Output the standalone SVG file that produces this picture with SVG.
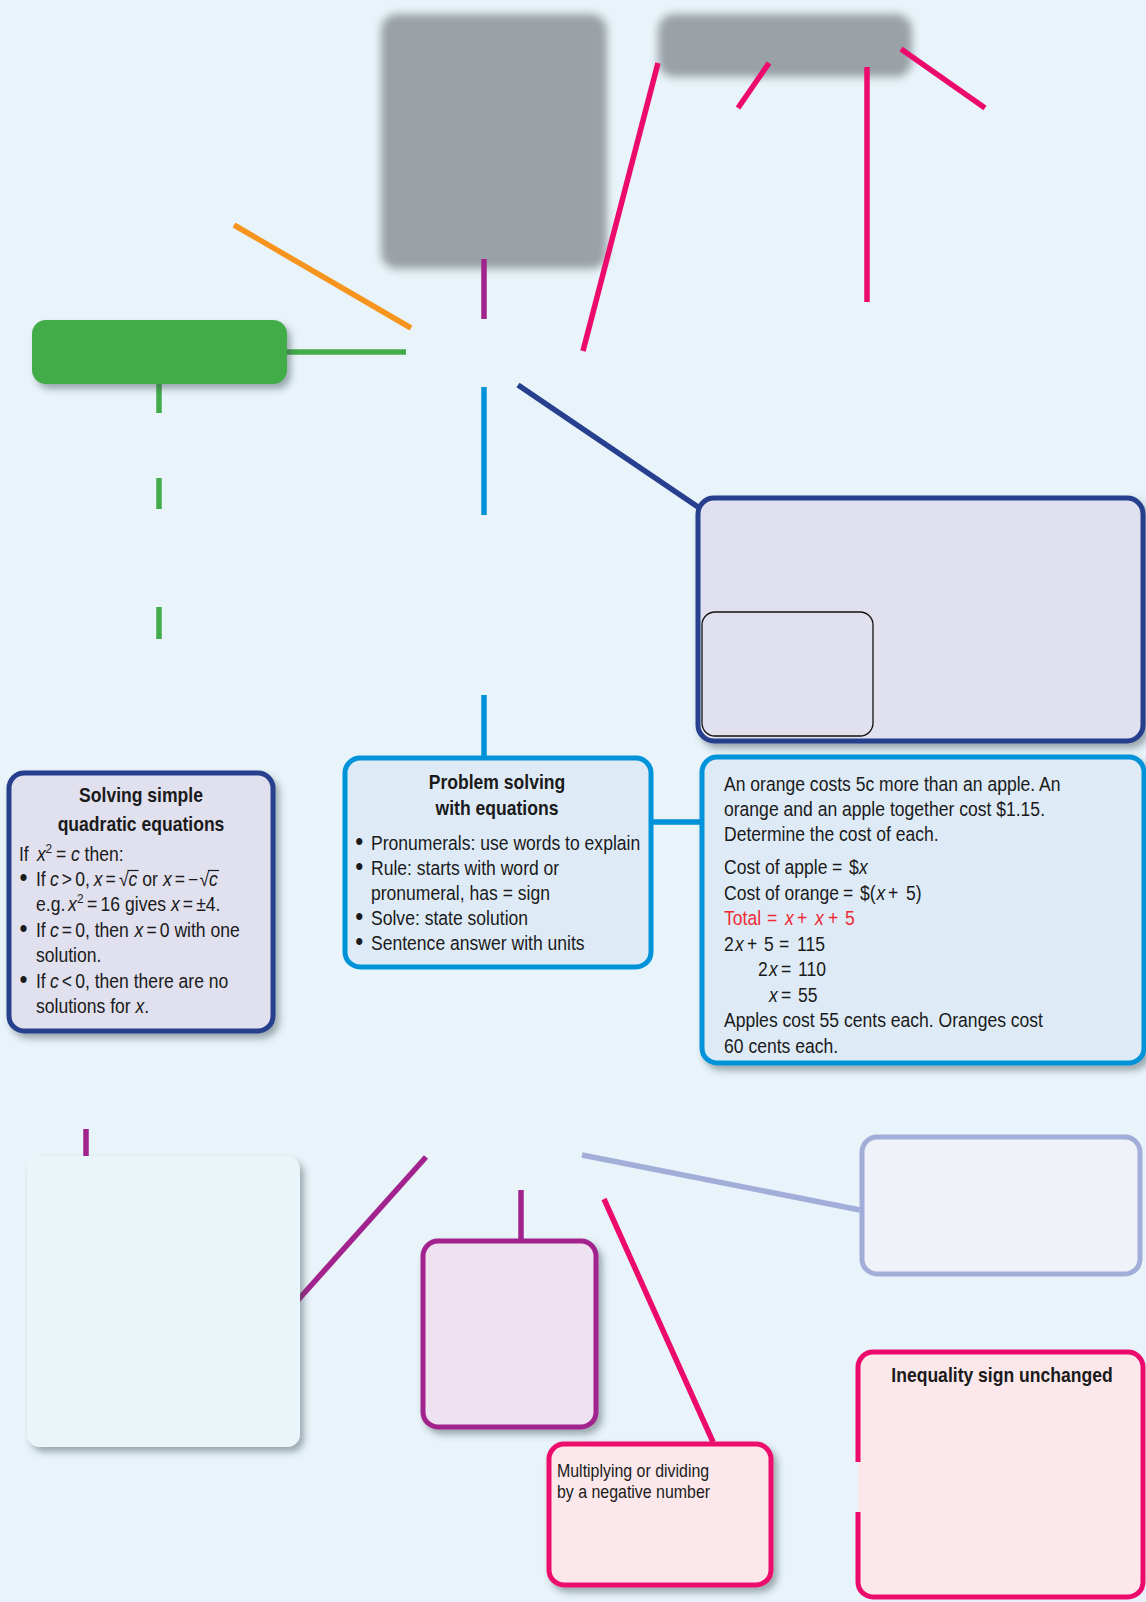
<svg xmlns="http://www.w3.org/2000/svg" width="1146" height="1602" viewBox="0 0 1146 1602">
  <defs>
    <filter id="shadow" x="-10%" y="-10%" width="125%" height="130%">
      <feDropShadow dx="4" dy="5" stdDeviation="3.5" flood-color="#3a4852" flood-opacity="0.45"/>
    </filter>
    <filter id="blur" x="-10%" y="-20%" width="120%" height="140%">
      <feGaussianBlur stdDeviation="4"/>
    </filter>
    <style>
      .t { font-family: "Liberation Sans", Arial, sans-serif; font-size: 19.3px; fill: #1a1a1a; }
      .b { font-weight: bold; }
      .i { font-style: italic; }
      .sm { font-size: 17.5px; }
      .sup { font-size: 13px; }
      .bul { font-size: 25px; }
      .red { fill: #ED2A36; }
      .ln { fill: none; stroke-width: 5.5; stroke-linecap: butt; }
      .green { stroke: #43AC4A; }
      .orange { stroke: #F7941D; }
      .purple { stroke: #A2238E; }
      .blue { stroke: #0093D9; }
      .navy { stroke: #263F8E; }
      .pink { stroke: #EC0B6D; }
      .lav { stroke: #A2AED9; }
      .bar { stroke: #1a1a1a; stroke-width: 1.2; }
    </style>
  </defs>

  <!-- background -->
  <rect x="0" y="0" width="1146" height="1602" fill="#E8F4F9"/>

  <!-- top grey panels -->
  <g id="grey-panel-left">
    <rect x="381" y="14" width="226" height="255" rx="16" fill="#9AA1A7" filter="url(#blur)"/>
  </g>
  <g id="grey-panel-right">
    <rect x="658" y="14" width="254" height="63" rx="16" fill="#9AA1A7" filter="url(#blur)"/>
  </g>

  <!-- connectors -->
  <g id="connectors">
    <line class="ln pink" x1="658" y1="63" x2="583" y2="351"/>
    <line class="ln pink" x1="769" y1="63" x2="738" y2="108"/>
    <line class="ln pink" x1="867" y1="67" x2="867" y2="302"/>
    <line class="ln pink" x1="901" y1="49" x2="985" y2="108"/>
    <line class="ln purple" x1="484" y1="259" x2="484" y2="319"/>
    <line class="ln orange" x1="234" y1="225" x2="411" y2="328"/>
    <line class="ln green" x1="287" y1="352" x2="406" y2="352"/>
    <line class="ln green" x1="159" y1="384" x2="159" y2="413"/>
    <line class="ln green" x1="159" y1="478" x2="159" y2="509"/>
    <line class="ln green" x1="159" y1="607" x2="159" y2="639"/>
    <line class="ln blue" x1="484" y1="387" x2="484" y2="515"/>
    <line class="ln navy" x1="518" y1="385" x2="698" y2="507"/>
    <line class="ln blue" x1="484" y1="695" x2="484" y2="757"/>
    <line class="ln blue" x1="652" y1="822" x2="700" y2="822"/>
    <line class="ln purple" x1="86" y1="1129" x2="86" y2="1157"/>
    <line class="ln purple" x1="426" y1="1157" x2="298" y2="1300"/>
    <line class="ln purple" x1="521" y1="1190" x2="521" y2="1240"/>
    <line class="ln lav" x1="582" y1="1155" x2="860" y2="1210"/>
    <line class="ln pink" x1="604" y1="1199" x2="713" y2="1442"/>
  </g>

  <!-- green heading -->
  <g id="green-node">
    <rect x="32" y="320" width="255" height="64" rx="14" fill="#43AC4A" filter="url(#shadow)"/>
  </g>

  <!-- navy box with inner panel -->
  <g id="navy-node">
    <rect x="698" y="498" width="445" height="243" rx="16" fill="#E0E0EE" stroke="#263F8E" stroke-width="5" filter="url(#shadow)"/>
    <rect x="702" y="612" width="171" height="124" rx="13" fill="#E0E0EE" stroke="#111" stroke-width="1.3"/>
  </g>

  <!-- quadratic equations (text is set in a horizontally condensed frame: x = local * 0.91) -->
  <g id="quadratic-node">
    <rect x="9" y="773" width="264" height="258" rx="15" fill="#E0E0EE" stroke="#263F8E" stroke-width="5" filter="url(#shadow)"/>
    <g transform="scale(0.91,1)">
      <text class="t b" x="154.95" y="802" text-anchor="middle">Solving simple</text>
      <text class="t b" x="154.95" y="831" text-anchor="middle">quadratic equations</text>
      <text class="t" y="861"><tspan x="20.88">If</tspan><tspan x="40.66" class="i">x</tspan><tspan x="50.0" dy="-8" class="sup">2</tspan><tspan x="61.54" dy="8">=</tspan><tspan x="78.02" class="i">c</tspan><tspan x="92.97">then:</tspan></text>
      <text class="t" y="886"><tspan x="21.5" class="bul">•</tspan><tspan x="39.56">If</tspan><tspan x="54.95" class="i">c</tspan><tspan x="67.91">&gt;</tspan><tspan x="82.64">0,</tspan><tspan x="103.08" class="i">x</tspan><tspan x="116.04">=</tspan><tspan x="130.77">√</tspan><tspan x="141.32" class="i">c</tspan><tspan x="156.37">or</tspan><tspan x="179.01" class="i">x</tspan><tspan x="191.98">=</tspan><tspan x="206.70">−</tspan><tspan x="219.23">√</tspan><tspan x="229.78" class="i">c</tspan></text>
      <text class="t" y="911"><tspan x="39.56">e.g.</tspan><tspan x="74.73" class="i">x</tspan><tspan x="84.62" dy="-8" class="sup">2</tspan><tspan x="95.60" dy="8">=</tspan><tspan x="110.44">16</tspan><tspan x="137.36">gives</tspan><tspan x="187.91" class="i">x</tspan><tspan x="200.88">=</tspan><tspan x="215.60">±4.</tspan></text>
      <text class="t" y="937"><tspan x="21.5" class="bul">•</tspan><tspan x="39.56">If</tspan><tspan x="54.95" class="i">c</tspan><tspan x="67.91">=</tspan><tspan x="82.64">0, then</tspan><tspan x="147.91" class="i">x</tspan><tspan x="160.88">=</tspan><tspan x="175.60">0 with one</tspan></text>
      <text class="t" x="39.56" y="962">solution.</text>
      <text class="t" y="988"><tspan x="21.5" class="bul">•</tspan><tspan x="39.56">If</tspan><tspan x="54.95" class="i">c</tspan><tspan x="67.91">&lt;</tspan><tspan x="82.64">0, then there are no</tspan></text>
      <text class="t" y="1013"><tspan x="39.56">solutions for </tspan><tspan class="i">x</tspan><tspan>.</tspan></text>
    </g>
    <line class="bar" x1="127.5" y1="870.5" x2="138.5" y2="870.5"/>
    <line class="bar" x1="208" y1="870.5" x2="219" y2="870.5"/>
  </g>

  <!-- problem solving -->
  <g id="problem-solving-node">
    <rect x="345" y="758" width="306" height="209" rx="15" fill="#DEEBF7" stroke="#0093D9" stroke-width="5"/>
    <g transform="scale(0.91,1)">
      <text class="t b" x="546.15" y="789" text-anchor="middle">Problem solving</text>
      <text class="t b" x="546.15" y="815" text-anchor="middle">with equations</text>
      <text class="t" y="850"><tspan x="390.5" class="bul">•</tspan><tspan x="407.69">Pronumerals: use words to explain</tspan></text>
      <text class="t" y="875"><tspan x="390.5" class="bul">•</tspan><tspan x="407.69">Rule: starts with word or</tspan></text>
      <text class="t" x="407.69" y="900">pronumeral, has = sign</text>
      <text class="t" y="925"><tspan x="390.5" class="bul">•</tspan><tspan x="407.69">Solve: state solution</tspan></text>
      <text class="t" y="950"><tspan x="390.5" class="bul">•</tspan><tspan x="407.69">Sentence answer with units</tspan></text>
    </g>
  </g>

  <!-- worked example -->
  <g id="example-node">
    <rect x="702" y="757" width="442" height="306" rx="15" fill="#DEEBF7" stroke="#0093D9" stroke-width="5" filter="url(#shadow)"/>
    <g transform="scale(0.91,1)">
      <text class="t" x="795.60" y="791">An orange costs 5c more than an apple. An</text>
      <text class="t" x="795.60" y="816">orange and an apple together cost $1.15.</text>
      <text class="t" x="795.60" y="841">Determine the cost of each.</text>
      <text class="t" y="874"><tspan x="795.60">Cost of apple</tspan><tspan x="914.29">=</tspan><tspan x="932.97">$</tspan><tspan x="943.96" class="i">x</tspan></text>
      <text class="t" y="900"><tspan x="795.60">Cost of orange</tspan><tspan x="926.37">=</tspan><tspan x="945.05">$(</tspan><tspan x="963.19" class="i">x</tspan><tspan x="975.82">+</tspan><tspan x="995.60">5)</tspan></text>
      <text class="t red" y="925"><tspan x="795.60">Total</tspan><tspan x="842.86">=</tspan><tspan x="862.64" class="i">x</tspan><tspan x="875.82">+</tspan><tspan x="895.60" class="i">x</tspan><tspan x="909.89">+</tspan><tspan x="928.57">5</tspan></text>
      <text class="t" y="951"><tspan x="795.60">2</tspan><tspan x="807.69" class="i">x</tspan><tspan x="820.88">+</tspan><tspan x="839.56">5</tspan><tspan x="856.04">=</tspan><tspan x="875.82">115</tspan></text>
      <text class="t" y="976"><tspan x="832.97">2</tspan><tspan x="845.05" class="i">x</tspan><tspan x="858.24">=</tspan><tspan x="876.92">110</tspan></text>
      <text class="t" y="1002"><tspan x="845.05" class="i">x</tspan><tspan x="858.24">=</tspan><tspan x="876.92">55</tspan></text>
      <text class="t" x="795.60" y="1027">Apples cost 55 cents each. Oranges cost</text>
      <text class="t" x="795.60" y="1053">60 cents each.</text>
    </g>
  </g>

  <!-- pale panel, lower left -->
  <g id="pale-node">
    <rect x="27" y="1156" width="273" height="291" rx="13" fill="#EAF5F9" filter="url(#shadow)"/>
  </g>

  <!-- purple box -->
  <g id="purple-node">
    <rect x="423" y="1241" width="173" height="186" rx="15" fill="#EFE2F0" stroke="#A2238E" stroke-width="5" filter="url(#shadow)"/>
  </g>

  <!-- lavender box -->
  <g id="lavender-node">
    <rect x="862" y="1137" width="278" height="137" rx="15" fill="#F0F2FA" stroke="#A2AED9" stroke-width="5"/>
  </g>

  <!-- multiplying / dividing -->
  <g id="negative-node">
    <rect x="549" y="1444" width="222" height="141" rx="15" fill="#FCE8EB" stroke="#EC0B6D" stroke-width="5" filter="url(#shadow)"/>
    <g transform="scale(0.91,1)">
      <text class="t sm" x="612.09" y="1477">Multiplying or dividing</text>
      <text class="t sm" x="612.09" y="1498">by a negative number</text>
    </g>
  </g>

  <!-- inequality sign unchanged -->
  <g id="unchanged-node">
    <rect x="858" y="1352" width="285" height="245" rx="15" fill="#FCE8EB"/>
    <path d="M858 1462 V1367 A15 15 0 0 1 873 1352 H1128 A15 15 0 0 1 1143 1367 V1582 A15 15 0 0 1 1128 1597 H873 A15 15 0 0 1 858 1582 V1512" fill="none" stroke="#EC0B6D" stroke-width="5"/>
    <g transform="scale(0.91,1)">
      <text class="t b" x="1101.10" y="1382" text-anchor="middle">Inequality sign unchanged</text>
    </g>
  </g>
</svg>
